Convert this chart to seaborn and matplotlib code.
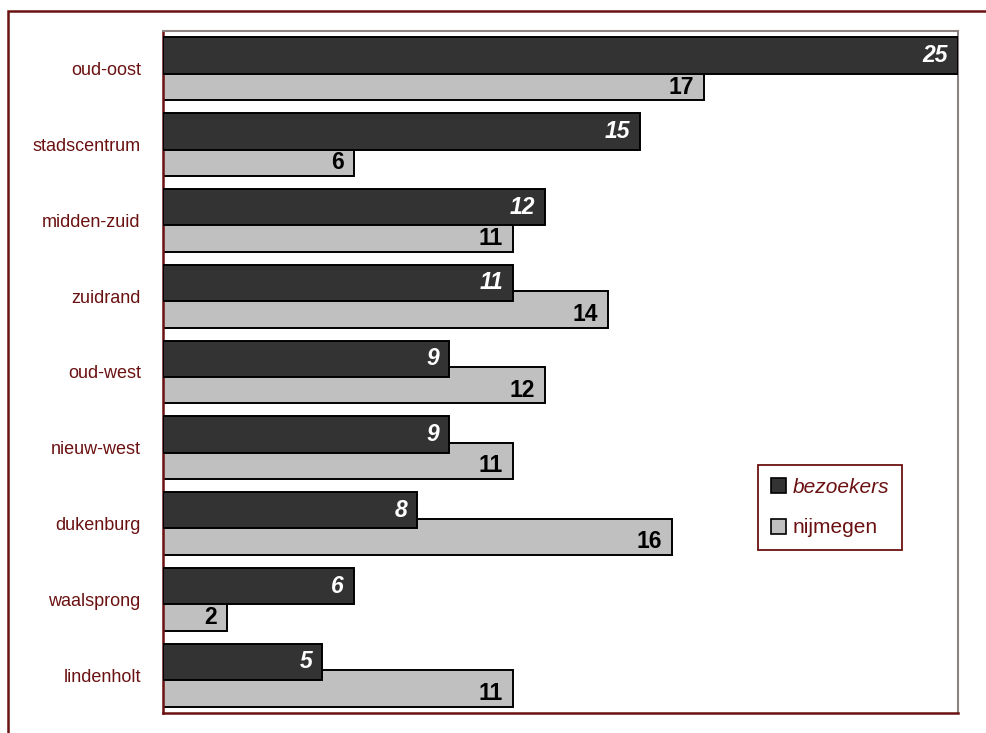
import matplotlib
matplotlib.use("Agg")
import matplotlib.pyplot as plt
from matplotlib.patches import Rectangle
import seaborn as sns
import pandas as pd

categories = ["oud-oost", "stadscentrum", "midden-zuid", "zuidrand", "oud-west",
              "nieuw-west", "dukenburg", "waalsprong", "lindenholt"]
bezoekers = [25, 15, 12, 11, 9, 9, 8, 6, 5]
nijmegen = [17, 6, 11, 14, 12, 11, 16, 2, 11]
series_names = ["bezoekers", "nijmegen"]

DARK_RED = "#6b1111"
DARK = "#333333"
LIGHT = "#c0c0c0"

df = pd.DataFrame({
    "wijk": categories * 2,
    "waarde": bezoekers + nijmegen,
    "groep": [series_names[0]] * len(categories) + [series_names[1]] * len(categories),
})

sns.set_theme(style="white")
plt.rcParams["font.family"] = ["Liberation Sans", "DejaVu Sans"]

fig = plt.figure(figsize=(9.86, 7.33), dpi=100)
ax = fig.add_axes([163 / 986, 1 - 713 / 733, (958 - 163) / 986, (713 - 31) / 733])

sns.barplot(data=df, y="wijk", x="waarde", hue="groep", hue_order=series_names,
            palette=[DARK, LIGHT], orient="h", dodge=True, width=0.70,
            edgecolor="black", linewidth=1.4, saturation=1, legend=False, ax=ax)

bar_h = 0.48
for ci, cont in enumerate(ax.containers):
    for p in cont.patches:
        yc = p.get_y() + p.get_height() / 2
        p.set_y(yc - bar_h / 2)
        p.set_height(bar_h)
        p.set_zorder(3 if ci == 0 else 2)

# value labels
dark_patches = list(ax.containers[0].patches)
light_patches = list(ax.containers[1].patches)
for p in dark_patches:
    w = p.get_width()
    yc = p.get_y() + p.get_height() / 2
    ax.annotate(f"{w:.0f}", xy=(w, yc), xytext=(-7, 0), textcoords="offset points",
                ha="right", va="center", color="white", fontsize=16.5,
                fontweight="bold", fontstyle="italic", zorder=5)
for pd_, pl in zip(dark_patches, light_patches):
    w = pl.get_width()
    top_vis = pd_.get_y() + pd_.get_height()
    bot = pl.get_y() + pl.get_height()
    yc = (top_vis + bot) / 2
    ax.annotate(f"{w:.0f}", xy=(w, yc), xytext=(-7, 0), textcoords="offset points",
                ha="right", va="center", color="black", fontsize=16.5,
                fontweight="bold", zorder=5)

ax.set_xlim(0, 25)
ax.set_ylim(8.5, -0.5)
ax.set_xlabel("")
ax.set_ylabel("")
ax.set_xticks([])
ax.tick_params(axis="y", length=0, pad=16)
for lab in ax.get_yticklabels():
    lab.set_fontsize(13)
    lab.set_color(DARK_RED)

for s in ["left", "bottom"]:
    ax.spines[s].set_color(DARK_RED)
    ax.spines[s].set_linewidth(1.8)
for s in ["top", "right"]:
    ax.spines[s].set_color("#8c8282")
    ax.spines[s].set_linewidth(1.5)

handles = [Rectangle((0, 0), 1, 1, facecolor=DARK, edgecolor="black", linewidth=1.2),
           Rectangle((0, 0), 1, 1, facecolor=LIGHT, edgecolor="black", linewidth=1.2)]
leg = ax.legend(handles, series_names, loc="upper left",
                bbox_to_anchor=((758 - 163) / 795, (713 - 465) / 682),
                borderaxespad=0,
                frameon=True, fancybox=False, shadow=False, framealpha=1,
                handlelength=0.72, handleheight=0.72, handletextpad=0.35,
                labelspacing=1.05, borderpad=0.6, fontsize=15)
leg.get_frame().set_edgecolor(DARK_RED)
leg.get_frame().set_linewidth(1.3)
for t in leg.get_texts():
    t.set_color(DARK_RED)
leg.get_texts()[0].set_style("italic")

# outer border of the chart area
fig.patches.append(Rectangle((8 / 986, -0.05), 1.1, 1 - 11 / 733 + 0.05,
                             transform=fig.transFigure, fill=False,
                             edgecolor=DARK_RED, linewidth=1.8, zorder=0))

fig.savefig("out.png", dpi=100)
